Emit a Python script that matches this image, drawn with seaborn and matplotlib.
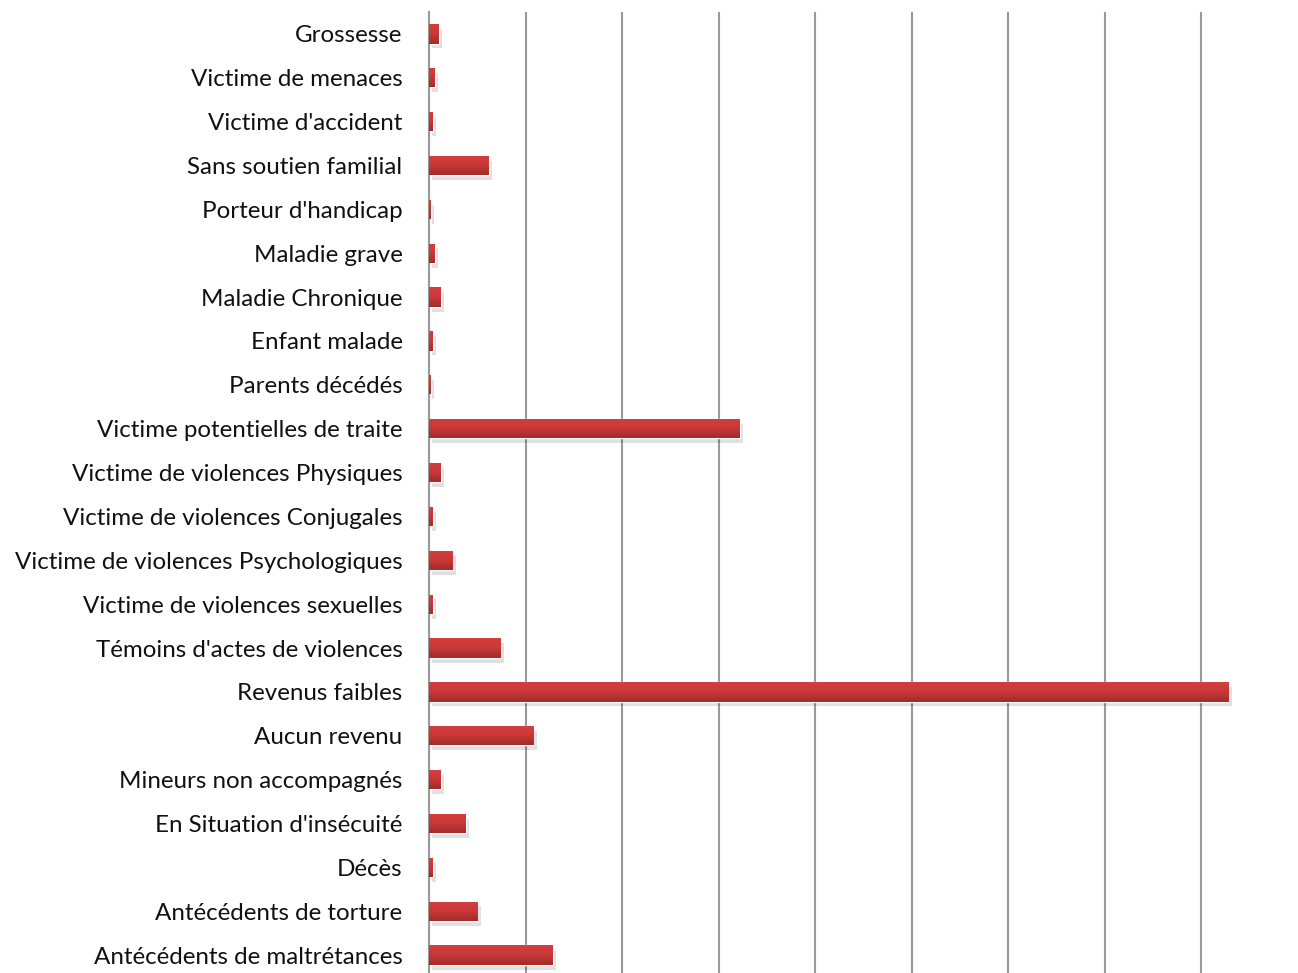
import matplotlib
matplotlib.use('Agg')
import numpy as np
import pandas as pd
import matplotlib.pyplot as plt
import seaborn as sns
from matplotlib import patheffects as pe
from matplotlib.colors import LinearSegmentedColormap

categories = ['Grossesse', 'Victime de menaces', "Victime d'accident", 'Sans soutien familial',
              "Porteur d'handicap", 'Maladie grave', 'Maladie Chronique', 'Enfant malade',
              'Parents décédés', 'Victime potentielles de traite', 'Victime de violences Physiques',
              'Victime de violences Conjugales', 'Victime de violences Psychologiques',
              'Victime de violences sexuelles', "Témoins d'actes de violences", 'Revenus faibles',
              'Aucun revenu', 'Mineurs non accompagnés', "En Situation d'insécuité", 'Décès',
              'Antécédents de torture', 'Antécédents de maltrétances']
values = [5, 3, 2, 31, 1, 3, 6, 2, 1, 161, 6, 2, 12, 2, 37, 414, 54, 6, 19, 2, 25, 64]

df = pd.DataFrame({'Situation': categories, 'Effectif': values})

sns.set_style('white')
plt.rcParams['font.family'] = ['Lato', 'DejaVu Sans']

fig = plt.figure(figsize=(12.98, 9.73), dpi=100)
ax = fig.add_axes([429 / 1298, 1 - 977 / 973, 1 - 429 / 1298, (977 - 12) / 973])

sns.barplot(data=df, y='Situation', x='Effectif', orient='h', color='#c03535',
            saturation=1, width=0.44, ax=ax)

n = len(categories)

# gradient fill + soft shadow on each bar
cmap = LinearSegmentedColormap.from_list('bar', ['#d43e3e', '#c93838', '#a02c2c'])
grad = np.linspace(0, 1, 64).reshape(-1, 1)
for p in ax.patches:
    x, y, w, h = p.get_x(), p.get_y(), p.get_width(), p.get_height()
    p.set_path_effects([pe.SimplePatchShadow(offset=(2.5, -3.5), shadow_rgbFace='#000000', alpha=0.12),
                        pe.Normal()])
    im = ax.imshow(grad, extent=[x, x + w, y + h, y], origin='upper', aspect='auto',
                   cmap=cmap, zorder=3)
    im.set_clip_path(p)
ax.set_xlim(0, 450)
ax.set_ylim(n - 0.5, -0.5)

ax.set_xticks(np.arange(0, 401, 50))
ax.tick_params(axis='x', length=0, labelbottom=False)
ax.xaxis.grid(True, color='#999999', linewidth=1.5)
ax.set_axisbelow(True)

ax.set_yticks(np.arange(-0.5, n, 1), minor=True)
ax.tick_params(axis='y', which='major', length=0, pad=19, labelsize=17.4, labelcolor='#111111')
ax.tick_params(axis='y', which='minor', length=6, width=1.2, color='#999999', direction='out')

for s in ['top', 'right', 'bottom']:
    ax.spines[s].set_visible(False)
ax.spines['left'].set_color('#999999')
ax.spines['left'].set_linewidth(1.5)

ax.set_xlabel('')
ax.set_ylabel('')

plt.savefig('out.png', dpi=100)
